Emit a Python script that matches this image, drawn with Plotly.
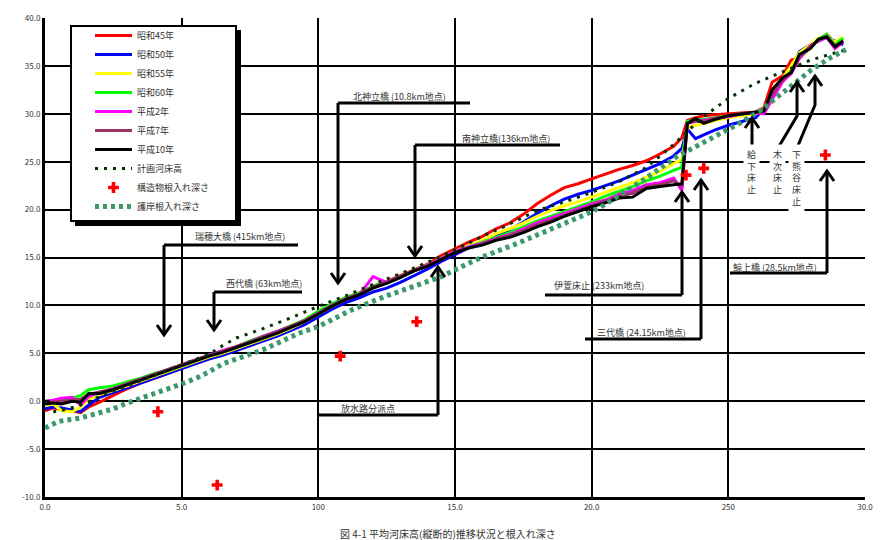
import plotly.graph_objects as go

# ---------------- data ----------------
KM = [0.0, 0.3, 0.6, 1.0, 1.3, 1.6, 2.0, 2.5, 3.0, 3.5,
      4.0, 4.5, 5.0, 5.5, 6.0, 6.5, 7.0, 7.5, 8.0, 8.5,
      9.0, 9.5, 10.0, 10.5, 11.0, 11.5, 12.0, 12.5, 13.0, 13.5,
      14.0, 14.5, 15.0, 15.5, 16.0, 16.5, 17.0, 17.5, 18.0, 18.5,
      19.0, 19.5, 20.0, 20.5, 21.0, 21.5, 22.0, 22.5, 23.0, 23.3,
      23.5, 23.8, 24.1, 24.5, 25.0, 25.5, 26.0, 26.3, 26.6, 27.0,
      27.3, 27.6, 28.0, 28.3, 28.6, 28.9, 29.2]

S45 = [-1.0, -0.7, -0.9, -1.0, -1.2, -0.6, -0.1, 0.6, 1.3, 1.9,
       2.4, 2.9, 3.5, 4.0, 4.6, 5.0, 5.5, 6.0, 6.6, 7.1,
       7.7, 8.4, 9.2, 10.0, 10.8, 11.3, 12.0, 12.5, 13.1, 13.7,
       14.3, 15.2, 15.9, 16.6, 17.2, 18.0, 18.6, 19.5, 20.6, 21.5,
       22.3, 22.7, 23.2, 23.7, 24.2, 24.6, 25.1, 25.8, 26.6, 27.5,
       29.3, 29.6, 29.8, 29.9, 30.0, 30.1, 30.2, 30.6, 33.3, 34.0,
       35.6, 35.8, 37.0, 37.8, 38.3, 37.4, 37.7]
S50 = [-0.8, -0.6, -0.7, -0.9, -1.1, -0.4, 0.4, 0.9, 1.4, 1.9,
       2.4, 2.9, 3.4, 3.9, 4.4, 4.8, 5.3, 5.8, 6.3, 6.8,
       7.4, 8.0, 8.8, 9.6, 10.3, 10.8, 11.4, 11.8, 12.4, 13.1,
       13.8, 14.6, 15.3, 16.0, 16.6, 17.3, 17.9, 18.7, 19.6, 20.4,
       21.1, 21.6, 22.0, 22.5, 23.0, 23.6, 24.2, 24.8, 25.6, 26.4,
       28.4, 27.4, 27.8, 28.3, 28.8, 29.2, 29.6, 30.5, 31.8, 33.5,
       34.6, 36.5, 37.2, 37.6, 38.0, 37.6, 37.2]
S55 = [-0.4, -0.3, -1.0, -1.1, -0.6, 0.2, 0.7, 1.1, 1.6, 2.1,
       2.6, 3.1, 3.6, 4.1, 4.6, 5.0, 5.5, 6.0, 6.5, 7.0,
       7.6, 8.3, 9.1, 9.9, 10.6, 11.2, 11.8, 12.4, 13.0, 13.6,
       14.2, 14.9, 15.6, 16.2, 16.8, 17.5, 18.0, 18.6, 19.3, 19.9,
       20.4, 20.8, 21.3, 21.8, 22.3, 22.8, 23.4, 24.0, 24.8, 25.2,
       28.6, 28.8, 29.0, 29.3, 29.6, 29.8, 30.0, 30.4, 32.0, 33.8,
       35.0, 36.4, 37.2, 37.9, 38.1, 37.5, 38.0]
S60 = [0.0, 0.1, 0.2, 0.3, 0.6, 1.2, 1.4, 1.6, 2.0, 2.4,
       2.9, 3.3, 3.8, 4.3, 4.8, 5.2, 5.7, 6.3, 6.8, 7.3,
       7.9, 8.5, 9.4, 10.2, 10.8, 11.3, 12.0, 12.4, 13.0, 13.6,
       14.2, 14.9, 15.6, 16.1, 16.6, 17.1, 17.6, 18.2, 18.8, 19.3,
       19.8, 20.3, 20.8, 21.4, 21.9, 22.4, 23.0, 23.5, 24.1, 24.4,
       29.2, 29.4, 29.4, 29.6, 29.8, 30.0, 30.1, 30.3, 32.3, 33.6,
       34.4, 35.8, 37.0, 37.8, 38.3, 37.2, 37.9]
H02 = [0.0, 0.1, 0.3, 0.4, -0.4, 0.5, 0.9, 1.3, 1.8, 2.3,
       2.8, 3.3, 3.8, 4.3, 4.8, 5.3, 5.7, 6.2, 6.8, 7.3,
       7.8, 8.4, 9.2, 10.0, 10.6, 11.1, 13.0, 12.4, 13.0, 13.6,
       14.2, 14.9, 15.6, 16.1, 16.5, 17.0, 17.4, 18.0, 18.6, 19.1,
       19.6, 20.1, 20.6, 21.0, 21.6, 22.0, 22.6, 22.8, 23.3, 22.0,
       29.0, 29.2, 29.3, 29.5, 29.7, 30.0, 30.1, 30.0, 31.5, 33.4,
       34.2, 35.8, 37.1, 37.6, 38.0, 36.8, 37.5]
H07 = [-0.1, -0.1, 0.0, 0.1, 0.2, 0.7, 1.0, 1.3, 1.8, 2.3,
       2.8, 3.3, 3.8, 4.3, 4.8, 5.2, 5.7, 6.2, 6.7, 7.2,
       7.8, 8.4, 9.2, 10.0, 10.7, 11.2, 11.9, 12.4, 13.0, 13.6,
       14.1, 14.8, 15.5, 16.0, 16.4, 16.9, 17.3, 17.8, 18.4, 18.9,
       19.4, 19.9, 20.4, 20.9, 21.4, 21.7, 22.4, 22.6, 23.0, 22.4,
       29.0, 29.3, 29.2, 29.5, 29.8, 30.0, 30.1, 30.2, 32.0, 33.6,
       34.3, 36.0, 37.0, 37.7, 38.1, 37.1, 37.5]
H10 = [-0.3, -0.2, -0.3, 0.0, -0.1, 0.8, 0.8, 1.2, 1.7, 2.2,
       2.7, 3.2, 3.7, 4.2, 4.7, 5.1, 5.6, 6.1, 6.6, 7.1,
       7.7, 8.3, 9.1, 9.9, 10.6, 11.1, 11.8, 12.3, 12.9, 13.6,
       14.1, 14.8, 15.5, 16.0, 16.3, 16.8, 17.1, 17.6, 18.2, 18.7,
       19.3, 19.8, 20.3, 20.7, 21.2, 21.3, 22.2, 22.4, 22.6, 22.7,
       29.0, 29.5, 29.0, 29.4, 29.8, 30.0, 30.2, 30.3, 32.5, 33.8,
       34.3, 36.2, 36.8, 37.8, 38.0, 37.0, 37.6]

PLAN_KM = [0.3, 0.7, 1.1, 1.5, 2.0, 3.0, 4.0, 5.0, 6.0, 6.5,
           7.0, 8.0, 9.0, 10.0, 11.0, 12.0, 13.0, 14.0, 15.0, 16.0,
           17.0, 18.0, 19.0, 20.0, 21.0, 22.0, 23.0, 24.0, 25.0, 26.0,
           27.0, 28.0, 29.2]
PLAN_Z = [-1.1, -0.9, -0.6, -0.2, 0.5, 1.6, 2.7, 3.8, 4.9, 5.8,
          6.6, 7.6, 8.7, 9.9, 11.0, 12.2, 13.3, 14.5, 15.8, 17.2,
          18.5, 19.9, 20.8, 21.8, 22.9, 24.4, 26.8, 29.5, 31.6, 33.2,
          34.4, 35.6, 36.6]

GAN_KM = [0.0, 0.5, 1.3, 2.0, 2.5, 3.0, 3.5, 4.1, 4.6, 5.1,
          5.6, 6.0, 6.5, 7.0, 8.0, 9.3, 10.0, 11.2, 12.4, 13.6,
          14.5, 15.2, 16.0, 17.3, 18.5, 19.7, 20.3, 21.0, 21.9, 23.1,
          24.3, 25.4, 26.2, 27.1, 28.0, 28.7, 29.3]
GAN_Z = [-2.8, -2.1, -1.75, -1.2, -0.8, -0.2, 0.3, 0.8, 1.4, 1.9,
         2.5, 3.05, 3.9, 4.4, 5.4, 7.1, 7.8, 9.5, 10.9, 12.1,
         13.0, 14.0, 15.05, 16.5, 17.9, 19.4, 20.2, 21.5, 23.1, 25.5,
         27.3, 29.0, 30.4, 32.5, 34.5, 35.8, 36.7]

STR_KM = [4.13, 6.3, 10.8, 13.6, 23.45, 24.1, 28.55]
STR_Z = [-1.1, -8.75, 4.7, 8.3, 23.6, 24.3, 25.7]

X_TICKS = [0, 5, 10, 15, 20, 25, 30]
X_TICKTEXT = ["0.0", "5.0", "100", "15.0", "20.0", "250", "30.0"]
Y_TICKS = [-10, -5, 0, 5, 10, 15, 20, 25, 30, 35, 40]
Y_TICKTEXT = ["-10.0", "-5.0", "0.0", "5.0", "10.0", "15.0", "20.0",
              "25.0", "30.0", "35.0", "40.0"]

SERIES = [("昭和45年", S45, "#ff0000"), ("昭和50年", S50, "#0000ff"),
          ("昭和55年", S55, "#ffff00"), ("昭和60年", S60, "#00ff00"),
          ("平成2年", H02, "#ff00ff"), ("平成7年", H07, "#993366"),
          ("平成10年", H10, "#000000")]

# ---------------- layout geometry ----------------
# page pixels; the html body adds an 8px margin, so the figure is offset by OFF
OFF = 8
W, H = 882, 532
PX_L, PX_R, PX_T, PX_B = 45, 865, 18, 497          # plot area in page pixels
L, T = PX_L - OFF, PX_T - OFF
R, B = W - (PX_R - OFF), H - (PX_B - OFF)
XMIN, XMAX, YMIN, YMAX = 0, 30, -10, 40
PW, PH = PX_R - PX_L, PX_B - PX_T
FONT = "Noto Sans CJK JP, Noto Sans, sans-serif"
TXT = "#333333"


def dx(px):
    return XMIN + (px - PX_L) / PW * (XMAX - XMIN)


def dy(py):
    return YMAX - (py - PX_T) / PH * (YMAX - YMIN)


fig = go.Figure()
for name, vals, col in SERIES:
    fig.add_trace(go.Scatter(x=KM, y=vals, mode="lines", name=name,
                             line=dict(color=col, width=3)))
fig.add_trace(go.Scatter(x=PLAN_KM, y=PLAN_Z, mode="lines", name="計画河床高",
                         line=dict(color="#003300", width=3, dash="3px,6px")))
fig.add_trace(go.Scatter(x=STR_KM, y=STR_Z, mode="markers", name="構造物根入れ深さ",
                         marker=dict(symbol="cross", color="#ff0000", size=9,
                                     line=dict(width=0))))
fig.add_trace(go.Scatter(x=GAN_KM, y=GAN_Z, mode="lines", name="護岸根入れ深さ",
                         line=dict(color="#3a9a6c", width=5, dash="4px,4px")))

shapes = []
# legend box with shadow
shapes.append(dict(type="rect", xref="x", yref="y", layer="above",
                   x0=dx(75), x1=dx(241), y0=dy(30), y1=dy(226),
                   fillcolor="black", line=dict(width=0)))
shapes.append(dict(type="rect", xref="x", yref="y", layer="above",
                   x0=dx(71), x1=dx(236), y0=dy(26), y1=dy(221),
                   fillcolor="white", line=dict(color="black", width=2)))


def seg(points):
    path = "M " + " L ".join(f"{dx(px):.4f},{dy(py):.4f}" for px, py in points)
    shapes.append(dict(type="path", xref="x", yref="y", layer="above", path=path,
                       line=dict(color="black", width=3)))


def head(px, py, up):
    s = 10 if up else -10
    seg([(px - 7, py + s), (px, py), (px + 7, py + s)])


# leader lines: (text, text_x, text_y, line_y, x_left, x_right, arrow_x, arrow_y)
LEADERS = [
    ("北神立橋 (10.8km地点)", 399, 96, 103, 338, 470, 338, 283),
    ("南神立橋(136km地点)", 506, 138, 145, 415, 560, 415, 256),
    ("瑞穂大橋 (415km地点)", 240, 236, 245, 164, 298, 164, 335),
    ("西代橋 (63km地点)", 264, 283, 292, 214, 302, 214, 330),
    ("放水路分派点", 368, 408, 415, 317, 438, 438, 267),
    ("伊萱床止 (233km地点)", 599, 285, 295, 545, 682, 682, 192),
    ("三代橋 (24.15km地点)", 641, 332, 339, 585, 701, 701, 180),
    ("鯨上橋 (28.5km地点)", 775, 267, 273, 730, 827, 827, 171),
]
annotations = []
for text, tx, ty, ly, xl, xr, ax, ay in LEADERS:
    annotations.append(dict(x=dx(tx), y=dy(ty), xref="x", yref="y", text=text,
                            showarrow=False, font=dict(size=9, color=TXT, family=FONT)))
    seg([(xl, ly), (xr, ly)])
    seg([(ax, ly), (ax, ay)])
    head(ax, ay, up=ay < ly)

# vertical labels with arrows
VLABELS = [("給<br>下<br>床<br>止", 751, 172), ("木<br>次<br>床<br>止", 777, 172),
           ("下<br>熊<br>谷<br>床<br>止", 796, 178)]
for text, tx, ty in VLABELS:
    annotations.append(dict(x=dx(tx), y=dy(ty), xref="x", yref="y", text=text,
                            showarrow=False, bgcolor="white", borderpad=3,
                            font=dict(size=9, color=TXT, family=FONT)))
seg([(752, 146), (752, 118)])
head(752, 118, up=True)
seg([(778, 148), (797, 116), (797, 82)])
head(797, 82, up=True)
seg([(797, 148), (815, 105), (815, 76)])
head(815, 76, up=True)

annotations.append(dict(x=dx(434), y=dy(521), xref="x", yref="y", text="距離　(K)",
                        showarrow=False, font=dict(size=9, color=TXT, family=FONT)))
annotations.append(dict(x=(448 - PX_L) / PW, y=(PX_B - 533) / PH,
                        xref="paper", yref="paper", yanchor="middle",
                        text="図 4-1 平均河床高(縦断的)推移状況と根入れ深さ",
                        showarrow=False, font=dict(size=10, color=TXT, family=FONT)))

axis_common = dict(showline=True, linecolor="black", linewidth=3, showgrid=True,
                   gridcolor="black", gridwidth=2, zeroline=False,
                   ticks="inside", ticklen=5, tickwidth=2, tickcolor="black",
                   tickfont=dict(size=8, color=TXT, family=FONT))
fig.update_xaxes(range=[XMIN, XMAX], tickvals=X_TICKS, ticktext=X_TICKTEXT, **axis_common)
fig.update_yaxes(range=[YMIN, YMAX], tickvals=Y_TICKS, ticktext=Y_TICKTEXT, **axis_common)

# legend placed in page pixels (top-left corner of the item block)
LEG_X, LEG_Y = 90, 21
fig.update_layout(
    width=W, height=H, margin=dict(l=L, r=R, t=T, b=B, autoexpand=False),
    paper_bgcolor="white", plot_bgcolor="white",
    shapes=shapes, annotations=annotations,
    font=dict(family=FONT, color=TXT),
    legend=dict(xref="paper", yref="paper", x=(LEG_X - PX_L) / PW,
                y=(PX_B - LEG_Y) / PH,
                xanchor="left", yanchor="top", bgcolor="rgba(0,0,0,0)",
                borderwidth=0, tracegroupgap=0, itemwidth=37,
                font=dict(size=9, color=TXT, family=FONT)),
)
fig.write_html("out.html")
